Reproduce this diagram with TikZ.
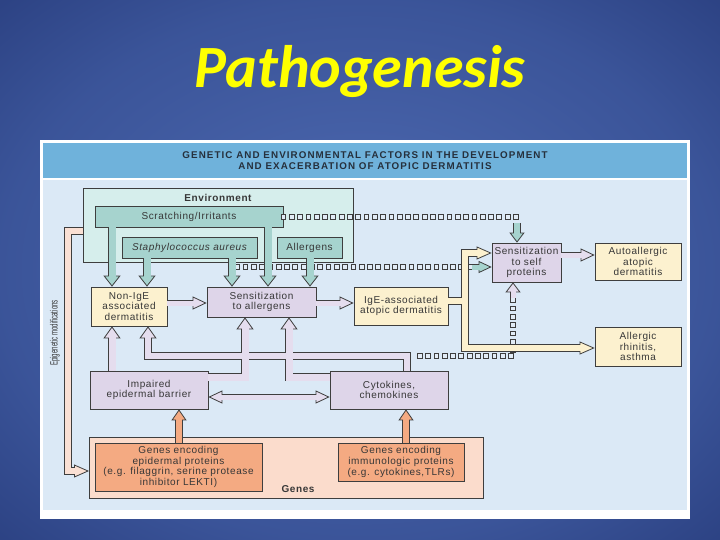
\documentclass[tikz,border=0pt]{standalone}
\usepackage{fontspec}
\newfontfamily\boxfont{Liberation Sans}[LetterSpace=6]
\newfontfamily\headfont{Liberation Sans}[LetterSpace=11]
\newfontfamily\titlefont{Carlito}
\newfontfamily\condfont{Liberation Sans}[FakeStretch=0.58]
\usetikzlibrary{arrows.meta,decorations.markings}
\definecolor{edgec}{RGB}{62,62,62}
\definecolor{txtc}{RGB}{55,55,55}
\definecolor{headtxt}{RGB}{38,48,60}
\definecolor{panelbg}{RGB}{219,233,246}
\definecolor{headbg}{RGB}{111,178,219}
\definecolor{envfill}{RGB}{214,238,236}
\definecolor{tealc}{RGB}{166,211,206}
\definecolor{lav}{RGB}{222,213,233}
\definecolor{lavarr}{RGB}{229,221,238}
\definecolor{creamc}{RGB}{252,241,207}
\definecolor{salmonc}{RGB}{244,170,130}
\definecolor{genesbg}{RGB}{251,220,204}
\definecolor{epic}{RGB}{250,224,212}
\definecolor{sqfill}{RGB}{226,236,246}
\definecolor{titleyel}{RGB}{255,255,0}
\pgfdeclareradialshading{slidebg}{\pgfpoint{0bp}{0bp}}{rgb(0bp)=(0.31,0.42,0.70); rgb(25bp)=(0.23,0.33,0.60); rgb(40bp)=(0.15,0.23,0.48); rgb(55bp)=(0.09,0.16,0.38); rgb(70bp)=(0.05,0.11,0.31)}
% broad hollow arrows: #1 fill, #2 shaft width, #3 head length, #4 head width, #5 path
\newcommand\fatout[5]{\draw[draw=edgec, line width=#2pt+1.7pt, -{Triangle[length=#3pt, width=#4pt, fill=#1, line width=0.8pt]}] #5;}
\newcommand\fatin[5]{\draw[draw=#1, line width=#2pt, shorten >=#3pt-2.5pt] #5;}
\newcommand\fatarrow[5]{\fatout{#1}{#2}{#3}{#4}{#5}\fatin{#1}{#2}{#3}{#4}{#5}}
\tikzset{
  box/.style={draw=edgec, line width=0.7pt, inner sep=0pt, align=center, text=txtc,
    font=\boxfont\fontsize{10}{10.8}\selectfont},
  lbl/.style={text=txtc, font=\boxfont\bfseries\fontsize{10}{11}\selectfont},
  sqline/.style={decorate, decoration={markings,
    mark=between positions 0 and 1 step 8.3pt with {\filldraw[draw=edgec, fill=sqfill, line width=0.6pt] (-2.4pt,-2.4pt) rectangle (2.4pt,2.4pt);}}},
}
\begin{document}
\begin{tikzpicture}[x=1pt,y=-1pt]
\useasboundingbox (0,0) rectangle (720,540);
\shade[shading=slidebg] (0,0) rectangle (720,540);
\node[font=\titlefont\bfseries\itshape\fontsize{60}{60}\selectfont, text=titleyel, anchor=base, inner sep=0pt] (title) at (360,88) {Pathogenesis};
% panel
\fill[white] (40,140) rectangle (690,519);
\fill[headbg] (43,143) rectangle (687,178);
\fill[panelbg] (43,180) rectangle (687,510);
\node[font=\headfont\bfseries\fontsize{9.8}{11}\selectfont, text=headtxt, align=center] (hdr) at (365,160.5) {GENETIC AND ENVIRONMENTAL FACTORS IN THE DEVELOPMENT\\AND EXACERBATION OF ATOPIC DERMATITIS};
% epigenetic band
\fatarrow{epic}{6}{15}{13}{(83,231) -- (68,231) -- (68,471) -- (89,471)}
\node[font=\condfont\fontsize{10.5}{11}\selectfont, text=txtc, rotate=90] (epi) at (55,333) {Epigenetic modifications};
% boxes
\node[box, fill=envfill, minimum width=270pt, minimum height=74pt] (env) at (218,225) {};
\node[lbl] (envlbl) at (218,198) {Environment};
\node[box, fill=tealc, minimum width=188pt, minimum height=21pt] (scratch) at (189,216.5) {Scratching/Irritants};
\node[box, fill=tealc, minimum width=135pt, minimum height=21pt] (staph) at (189.5,247.5) {\itshape Staphylococcus aureus};
\node[box, fill=tealc, minimum width=65pt, minimum height=21pt] (allerg) at (309.5,247.5) {Allergens};
\node[box, fill=creamc, minimum width=76pt, minimum height=39pt] (nonige) at (129,306.5) {Non-IgE\\associated\\dermatitis};
\node[box, fill=lav, minimum width=109pt, minimum height=30pt] (sensall) at (261.5,302) {Sensitization\\to allergens};
\node[box, fill=creamc, minimum width=94pt, minimum height=38pt] (ige) at (401,306) {IgE-associated\\atopic dermatitis};
\node[box, fill=lav, minimum width=69pt, minimum height=39pt] (sensself) at (526.5,262.5) {Sensitization\\to self\\proteins};
\node[box, fill=creamc, minimum width=86pt, minimum height=37pt] (auto) at (638,261.5) {Autoallergic\\atopic\\dermatitis};
\node[box, fill=creamc, minimum width=86pt, minimum height=39pt] (rhin) at (638,346.5) {Allergic\\rhinitis,\\asthma};
\node[box, fill=lav, minimum width=118pt, minimum height=38pt] (impaired) at (149,390) {Impaired\\epidermal barrier};
\node[box, fill=lav, minimum width=118pt, minimum height=38pt] (cyto) at (389,390) {Cytokines,\\chemokines};
\node[box, fill=genesbg, minimum width=394pt, minimum height=61pt] (genesout) at (286,467.5) {};
\node[lbl] (geneslbl) at (298,489) {Genes};
\node[box, fill=salmonc, minimum width=167pt, minimum height=48pt] (gene1) at (178.5,467) {Genes encoding\\epidermal proteins\\(e.g. filaggrin, serine protease\\inhibitor LEKTI)};
\node[box, fill=salmonc, minimum width=126pt, minimum height=38pt] (gene2) at (401,462) {Genes encoding\\immunologic proteins\\(e.g. cytokines,TLRs)};
% dotted (square) connectors
\path[sqline] (scratch.east) -- (517,216.5) -- (517,222);
\path[sqline] (237,267) -- (472,267);
\path[sqline] (513,300) -- (513,356) -- (417,356);
% teal arrows from environment
\fatarrow{tealc}{7}{11}{17}{(112,0 |- scratch.south) -- (112,0 |- nonige.north)}
\fatarrow{tealc}{7}{11}{17}{(147,0 |- staph.south) -- (147,0 |- nonige.north)}
\fatarrow{tealc}{7}{11}{17}{(232,0 |- staph.south) -- (232,0 |- sensall.north)}
\fatarrow{tealc}{7}{11}{17}{(268,0 |- scratch.south) -- (268,0 |- sensall.north)}
\fatarrow{tealc}{7}{11}{17}{(310,0 |- allerg.south) -- (310,0 |- sensall.north)}
\fatarrow{tealc}{6}{10}{15}{(517,223) -- (517,0 |- sensself.north)}
\fatarrow{tealc}{5}{13}{12}{(472,267) -- (sensself.west |- 0,267)}
% lavender up arrow into sensitization to self proteins
\fatarrow{lavarr}{5}{10}{15}{(513,298) -- (513,0 |- sensself.south)}
% cream branching band
\fatout{creamc}{6}{15}{13}{(ige.east |- 0,301) -- (465,301) -- (465,253) -- (sensself.west |- 0,253)}
\fatout{creamc}{6}{15}{13}{(ige.east |- 0,301) -- (465,301) -- (465,348) -- (rhin.west |- 0,348)}
\fatin{creamc}{6}{15}{13}{(ige.east |- 0,301) -- (465,301) -- (465,253) -- (sensself.west |- 0,253)}
\fatin{creamc}{6}{15}{13}{(ige.east |- 0,301) -- (465,301) -- (465,348) -- (rhin.west |- 0,348)}
% lavender network
\fatout{lavarr}{6}{12}{17}{(407,0 |- cyto.north) -- (407,356) -- (148,356) -- (148,0 |- nonige.south)}
\fatout{lavarr}{7}{12}{17}{(112,0 |- impaired.north) -- (112,0 |- nonige.south)}
\fatout{lavarr}{7}{12}{17}{(impaired.east |- 0,377) -- (245,377) -- (245,0 |- sensall.south)}
\fatout{lavarr}{7}{12}{17}{(cyto.west |- 0,377) -- (289,377) -- (289,0 |- sensall.south)}
\fatin{lavarr}{6}{12}{17}{(407,0 |- cyto.north) -- (407,356) -- (148,356) -- (148,0 |- nonige.south)}
\fatin{lavarr}{7}{12}{17}{(112,0 |- impaired.north) -- (112,0 |- nonige.south)}
\fatin{lavarr}{7}{12}{17}{(impaired.east |- 0,377) -- (245,377) -- (245,0 |- sensall.south)}
\fatin{lavarr}{7}{12}{17}{(cyto.west |- 0,377) -- (289,377) -- (289,0 |- sensall.south)}
% horizontal lavender arrows
\fatarrow{lavarr}{5}{14}{13}{(nonige.east |- 0,303) -- (sensall.west |- 0,303)}
\fatarrow{lavarr}{5}{14}{13}{(sensall.east |- 0,303) -- (ige.west |- 0,303)}
\fatarrow{lavarr}{5}{14}{13}{(sensself.east |- 0,255) -- (auto.west |- 0,255)}
\draw[draw=edgec, line width=6.7pt, {Triangle[length=14pt,width=13pt,fill=lavarr,line width=0.8pt]}-{Triangle[length=14pt,width=13pt,fill=lavarr,line width=0.8pt]}] (impaired.east |- 0,397) -- (cyto.west |- 0,397);
\draw[draw=lavarr, line width=5pt, shorten >=11.5pt, shorten <=11.5pt] (impaired.east |- 0,397) -- (cyto.west |- 0,397);
% salmon arrows from genes
\fatarrow{salmonc}{6}{11}{15}{(179,0 |- gene1.north) -- (179,0 |- impaired.south)}
\fatarrow{salmonc}{6}{11}{15}{(406,0 |- gene2.north) -- (406,0 |- cyto.south)}
\end{tikzpicture}
\end{document}
